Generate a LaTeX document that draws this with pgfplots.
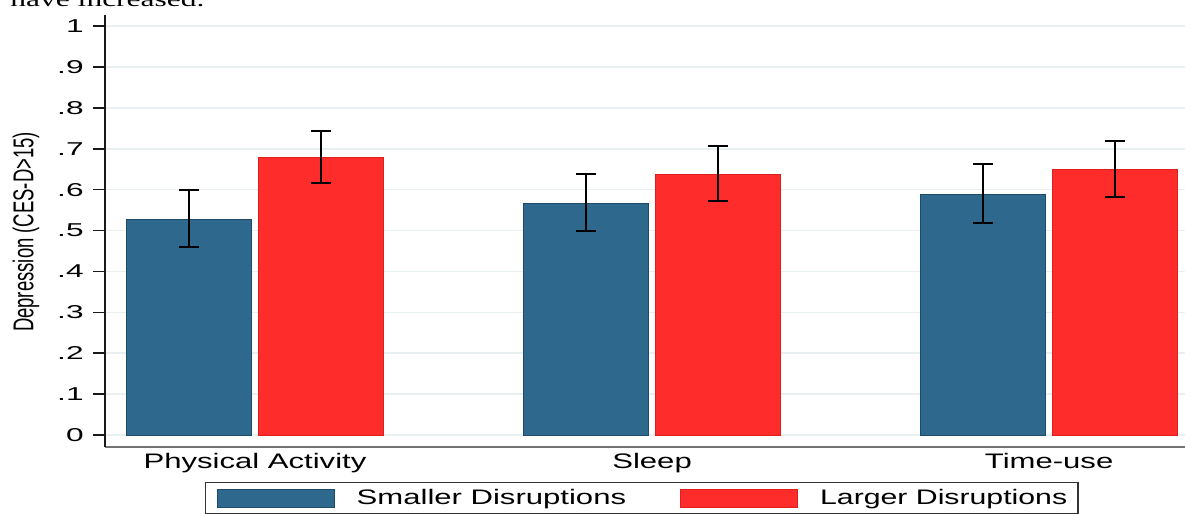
\documentclass[border=0pt]{standalone}
\usepackage{pgfplots}
\pgfplotsset{compat=1.18}
\usepackage{graphicx}
\usepackage{fontspec}
\setmainfont{Liberation Sans}
\newfontfamily\serifcut{Liberation Serif}
\definecolor{sblue}{RGB}{47,104,141}
\definecolor{sblueedge}{RGB}{30,75,105}
\definecolor{sred}{RGB}{255,44,44}
\definecolor{srededge}{RGB}{225,30,30}
\definecolor{sgrid}{RGB}{232,240,242}
\newcommand{\ty}[1]{\scalebox{1.7}[1]{#1}}
\newcommand{\tx}[1]{\scalebox{1.48}[1]{#1}}
\pgfplotsset{myerr/.style={error bars/.cd, y dir=both, y explicit,
  error bar style={line width=1pt, black},
  error mark options={rotate=90, mark size=5pt, line width=1pt, black}}}
\begin{document}
\begin{tikzpicture}
\useasboundingbox (0,0) rectangle (592.5pt,257pt);
\node[anchor=base west, inner sep=0pt, font=\serifcut\fontsize{10.5}{12}\selectfont] at (5pt,253.7pt) {\scalebox{1.5}[1]{have increased.}};
\begin{axis}[
  at={(52.5pt,33.5pt)}, anchor=south west,
  scale only axis, width=547.5pt, height=216pt,
  xmin=-0.3778, xmax=2.380,
  ymin=-0.0293, ymax=1.027,
  axis x line*=bottom, axis y line*=left,
  x axis line style={black!55, line width=0.8pt},
  y axis line style={black!90, line width=0.8pt},
  tick align=outside,
  major tick length=6pt,
  xtick={0,1,2},
  xticklabels={\tx{Physical Activity},\tx{Sleep},\tx{Time-use}},
  xtick style={draw=none},
  xticklabel style={font=\fontsize{10.5}{12}\selectfont, inner sep=0pt, anchor=north, yshift=3pt},
  ytick={0,0.1,...,1.0},
  yticklabels={\ty{0},\ty{.1},\ty{.2},\ty{.3},\ty{.4},\ty{.5},\ty{.6},\ty{.7},\ty{.8},\ty{.9},\ty{1}},
  ytick style={black!90, line width=0.8pt},
  yticklabel style={font=\fontsize{9.3}{10}\selectfont, inner sep=0pt, anchor=east, xshift=-4.5pt},
  ymajorgrids,
  grid style={draw=sgrid, line width=0.8pt},
  ylabel={\scalebox{1}[1.55]{Depression (CES-D>15)}},
  ylabel style={at={(axis description cs:-0.0721,0.4977)}, anchor=center, font=\fontsize{9.25}{11}\selectfont, inner sep=0pt},
  ybar, bar width=0.315, bar shift=0pt,
  legend columns=2,
  legend image code/.code={\draw[#1] (0pt,-4.5pt) rectangle (58.5pt,4.5pt);},
  legend style={at={(axis description cs:0.0913,-0.081)}, anchor=north west,
    draw=black!80, line width=0.75pt, inner xsep=5.5pt, inner ysep=3pt,
    font=\fontsize{10.5}{12}\selectfont,
    nodes={inner sep=0pt},
    column sep=0pt,
    /tikz/every odd column/.append style={column sep=11pt},
    /tikz/every even column/.append style={column sep=27pt},
    cells={anchor=center}},
]
\addplot[fill=sblue, draw=sblueedge, line width=0.5pt, myerr] coordinates {
  (-0.167,0.528) += (0,0.071) -= (0,0.068)
  (0.833,0.567) += (0,0.071) -= (0,0.068)
  (1.833,0.589) += (0,0.073) -= (0,0.071)
};
\addlegendentry{\tx{Smaller Disruptions}}
\addplot[fill=sred, draw=srededge, line width=0.5pt, myerr] coordinates {
  (0.167,0.678) += (0,0.065) -= (0,0.062)
  (1.167,0.638) += (0,0.069) -= (0,0.066)
  (2.167,0.650) += (0,0.070) -= (0,0.069)
};
\addlegendentry{\scalebox{1.44}[1]{Larger Disruptions}}
\end{axis}
\end{tikzpicture}
\end{document}
